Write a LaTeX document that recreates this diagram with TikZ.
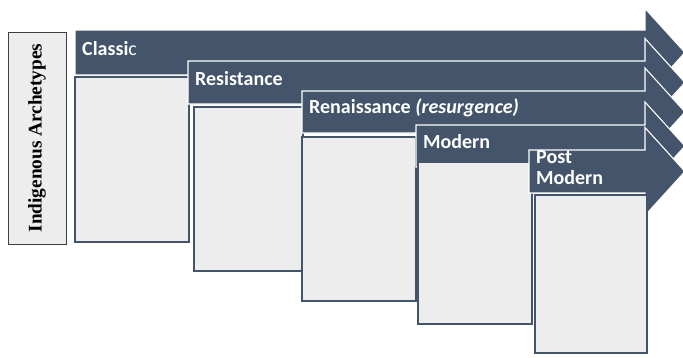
\documentclass[tikz,border=0pt]{standalone}
\usepackage{fontspec}
\setmainfont{Carlito}
\newfontfamily\labelfont{Liberation Serif}
\definecolor{slate}{HTML}{44546A}
\definecolor{panelgrey}{HTML}{EDEDED}
\definecolor{framegrey}{HTML}{3F3F3F}
\tikzset{
  stagebar/.style={fill=slate, draw=white, line width=1.1pt, line join=miter},
  panel/.style={fill=panelgrey, draw=slate, line width=1.4pt},
  stagetext/.style={anchor=base west, inner sep=0pt, text=white,
    font=\fontsize{20}{21}\selectfont\bfseries},
  sidebox/.style={fill=panelgrey, draw=framegrey, line width=1pt}
}
% arrow-shaped bar: left x, top y, bottom y (head vertex at x=645, tip at x=685)
\newcommand\stagearrow[3]{%
  \path[stagebar] (#1,#2) -- (645,#2) -- (645,{(#2+#3)/2-44}) -- (685,{(#2+#3)/2})
    -- (645,{(#2+#3)/2+44}) -- (645,#3) -- (#1,#3) -- cycle;}
\begin{document}
\begin{tikzpicture}[x=1pt, y=-1pt]
\useasboundingbox (0,0) rectangle (683,357);

% side label
\path[sidebox] (8,32) rectangle (66,244);
\node[rotate=90, inner sep=0pt, font=\labelfont\fontsize{19.3}{21}\selectfont\bfseries]
  (side) at (37,138) {Indigenous Archetypes};

% stage 1
\stagearrow{75}{30}{75}
\node[stagetext] (classic) at (82,55) {Classi\mdseries c};
\path[panel] (75,77) rectangle (189,242);

% stage 2
\stagearrow{188}{61}{104}
\node[stagetext] (resist) at (195,85) {Resistance};
\path[panel] (194,107) rectangle (303,271);

% stage 3
\stagearrow{302}{91}{133}
\node[stagetext] (renais) at (309,113) {Renaissance \textit{(resurgence)}};
\path[panel] (302,137) rectangle (416,301);

% stage 4
\stagearrow{416}{125}{167}
\node[stagetext] (modern) at (423,148) {Modern};
\path[panel] (418,162) rectangle (532,324);

% stage 5
\stagearrow{529}{150}{193}
\node[stagetext, anchor=north west, align=left] (postmod) at (536,150.5)
  {Post\\Modern};
\path[panel] (535,195) rectangle (647,353);
\end{tikzpicture}
\end{document}
